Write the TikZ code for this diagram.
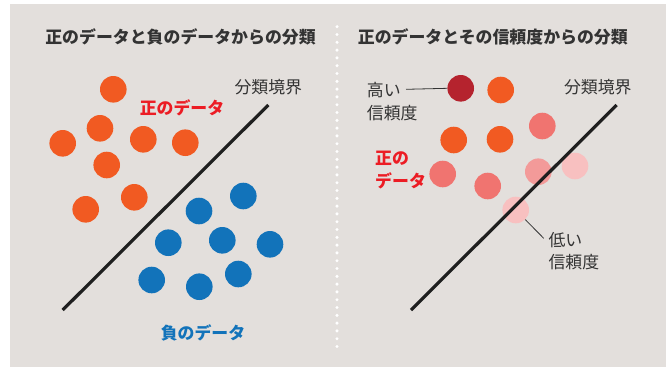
\documentclass[tikz,border=0pt]{standalone}
\usepackage{fontspec}
\newfontfamily\jp{Noto Sans CJK JP}
\definecolor{bg}{HTML}{E3DFDC}
\definecolor{dorange}{HTML}{F15A22}
\definecolor{dblue}{HTML}{1273BA}
\definecolor{lred}{HTML}{EC1C24}
\definecolor{darkred}{HTML}{B5232E}
\definecolor{salmon}{HTML}{F07470}
\definecolor{pinkA}{HTML}{F39A99}
\definecolor{pinkB}{HTML}{F8C0C0}
\definecolor{txt}{HTML}{333333}
\tikzset{
  dot/.style={circle, inner sep=0pt, minimum size=26.6bp, draw=none},
  ttl/.style={font=\jp\bfseries\fontsize{16.9bp}{18bp}\selectfont, text=txt, inner sep=0pt},
  lbl/.style={font=\jp\fontsize{16.9bp}{18bp}\selectfont, text=txt, inner sep=0pt},
  blbl/.style={font=\jp\bfseries\fontsize{16.9bp}{18bp}\selectfont, inner sep=0pt},
  bound/.style={line width=3.2bp, color=black!88},
  lead/.style={line width=0.8bp, color=txt},
}
\begin{document}
\begin{tikzpicture}[x=1bp,y=-1bp]
\useasboundingbox (0,0) rectangle (666,367);
\fill[white] (0,0) rectangle (666,367);
\fill[bg] (10,4) rectangle (666,367);
% separator
\draw[white, line width=3.4bp, line cap=round, dash pattern=on 0pt off 7.8bp] (337,26.7) -- (337,350);
% titles
\node[ttl] (t1) at (180.5,36.7) {正のデータと負のデータからの分類};
\node[ttl] (t2) at (492.8,36.7) {正のデータとその信頼度からの分類};
% left panel
\node[dot, fill=dorange] (p1) at (113.3,89.3) {};
\node[dot, fill=dorange] (p2) at (100,128.3) {};
\node[dot, fill=dorange] (p3) at (62.7,143.3) {};
\node[dot, fill=dorange] (p4) at (143.3,139.3) {};
\node[dot, fill=dorange] (p5) at (185.3,142.7) {};
\node[dot, fill=dorange] (p6) at (106.7,165) {};
\node[dot, fill=dorange] (p7) at (85.7,209.3) {};
\node[dot, fill=dorange] (p8) at (134.3,197.3) {};
\node[dot, fill=dblue] (n1) at (243.3,196) {};
\node[dot, fill=dblue] (n2) at (199,211) {};
\node[dot, fill=dblue] (n3) at (168.3,242.7) {};
\node[dot, fill=dblue] (n4) at (222.3,240.3) {};
\node[dot, fill=dblue] (n5) at (270,244.3) {};
\node[dot, fill=dblue] (n6) at (151.7,280) {};
\node[dot, fill=dblue] (n7) at (199.3,286.7) {};
\node[dot, fill=dblue] (n8) at (238.3,274) {};
\coordinate (la) at (268.3,105);
\coordinate (lb) at (62.7,310);
\draw[bound] (la) -- (lb);
\node[lbl] (b1) at (268.3,87.3) {分類境界};
\node[blbl, text=lred] (pos1) at (182,108.3) {正のデータ};
\node[blbl, text=dblue] (neg1) at (203,332.7) {負のデータ};
% right panel
\node[dot, fill=darkred] (q1) at (460.7,88.3) {};
\node[dot, fill=dorange] (q2) at (500.7,90) {};
\node[dot, fill=salmon] (q3) at (542.3,126) {};
\node[dot, fill=dorange] (q4) at (453.7,140) {};
\node[dot, fill=dorange] (q5) at (500,139.3) {};
\node[dot, fill=pinkB] (q6) at (575,166) {};
\node[dot, fill=salmon] (q7) at (442.7,174) {};
\node[dot, fill=salmon] (q8) at (487.7,186) {};
\node[dot, fill=pinkA] (q9) at (538.3,171.7) {};
\node[dot, fill=pinkB] (q10) at (515.7,210) {};
\coordinate (ra) at (616.7,105);
\coordinate (rb) at (411,310);
\draw[bound] (ra) -- (rb);
\node[lbl] (b2) at (597.8,87.3) {分類境界};
\node[lbl, anchor=west] (hi1) at (366.7,90) {高い};
\node[lbl, anchor=west] (hi2) at (366.7,113.3) {信頼度};
\coordinate (hc) at (406,89.3);
\draw[lead] (hc) -- (q1.west);
\node[blbl, text=lred, anchor=west] (pos2a) at (375,158.3) {正の};
\node[blbl, text=lred, anchor=west] (pos2b) at (375,180.7) {データ};
\node[lbl, anchor=west] (lo1) at (548.3,240) {低い};
\node[lbl, anchor=west] (lo2) at (548.3,261.7) {信頼度};
\coordinate (lc) at (543.7,238.3);
\draw[lead] (q10.-45) -- (lc);
\end{tikzpicture}
\end{document}
